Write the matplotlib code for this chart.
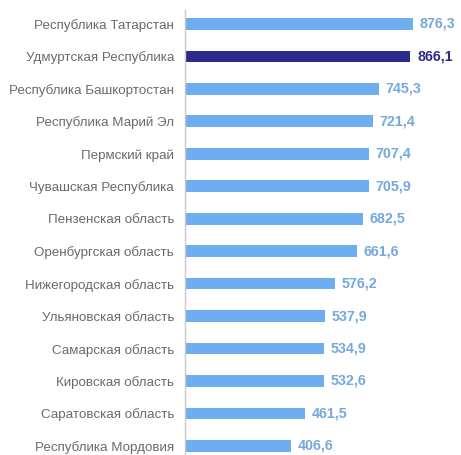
import matplotlib
matplotlib.use("Agg")
import matplotlib.pyplot as plt

regions = [
    "Республика Татарстан",
    "Удмуртская Республика",
    "Республика Башкортостан",
    "Республика Марий Эл",
    "Пермский край",
    "Чувашская Республика",
    "Пензенская область",
    "Оренбургская область",
    "Нижегородская область",
    "Ульяновская область",
    "Самарская область",
    "Кировская область",
    "Саратовская область",
    "Республика Мордовия",
]
values = [876.3, 866.1, 745.3, 721.4, 707.4, 705.9, 682.5, 661.6,
          576.2, 537.9, 534.9, 532.6, 461.5, 406.6]
highlight = "Удмуртская Республика"

light = "#6EAEF0"
dark = "#2B2B8C"
label_light = "#76A8DC"

plt.rcParams["font.family"] = ["Liberation Sans", "DejaVu Sans"]

W, H = 461, 455
fig = plt.figure(figsize=(W / 100, H / 100), dpi=100)
ax = fig.add_axes([185 / W, 0, 1 - 185 / W, 1 - 10 / H])

ypos = list(range(len(regions)))
colors = [dark if r == highlight else light for r in regions]
ax.barh(ypos, values, height=0.36, color=colors)

for y, v, r in zip(ypos, values, regions):
    ax.text(v + 26, y, f"{v:.1f}".replace(".", ","), va="center", ha="left",
            fontsize=10.3, fontweight="bold",
            color=dark if r == highlight else label_light)

ax.set_xlim(0, 1061)
ax.set_ylim(len(regions) - 1 + 0.28, -0.43)
ax.set_yticks(ypos)
ax.set_yticklabels(regions, fontsize=9.6, color="#6A6A6A")
ax.tick_params(axis="y", length=0, pad=8)
ax.set_xticks([])
for s in ["top", "right", "bottom"]:
    ax.spines[s].set_visible(False)
ax.spines["left"].set_color("#C8C8C8")
ax.spines["left"].set_linewidth(1)

fig.savefig("out.png", dpi=100)
